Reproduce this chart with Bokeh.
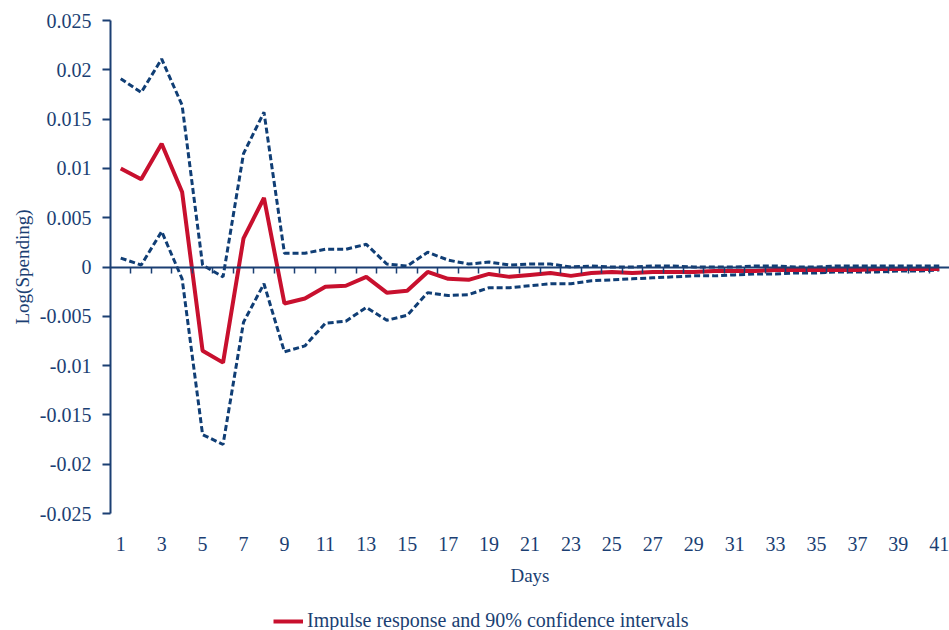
from bokeh.plotting import figure
from bokeh.layouts import column
from bokeh.models import (Range1d, FixedTicker, LinearAxis, Legend, LegendItem)
from bokeh.embed import file_html
from bokeh.resources import INLINE

days = list(range(1, 42))

impulse = [0.0100, 0.0089, 0.0125, 0.0076, -0.0085, -0.0097, 0.0029, 0.0070, -0.0037, -0.0032,
           -0.0020, -0.0019, -0.0010, -0.0026, -0.0024, -0.0005, -0.0012, -0.0013, -0.0007, -0.0010,
           -0.0008, -0.0006, -0.0009, -0.0006, -0.0005, -0.0006, -0.0005, -0.0005, -0.0005, -0.0004,
           -0.0004, -0.0004, -0.0003, -0.0003, -0.0003, -0.0003, -0.0003, -0.0002, -0.0002, -0.0002,
           -0.0002]

upper = [0.0191, 0.0177, 0.0211, 0.0164, 0.0002, -0.0010, 0.0115, 0.0157, 0.0014, 0.0014,
         0.0018, 0.0018, 0.0023, 0.0003, 0.0001, 0.0015, 0.0007, 0.0003, 0.0005, 0.0002,
         0.0003, 0.0003, 0.0000, 0.0001, 0.0000, 0.0000, 0.0001, 0.0001, 0.0000, 0.0000,
         0.0000, 0.0001, 0.0001, 0.0000, 0.0000, 0.0001, 0.0001, 0.0001, 0.0001, 0.0001,
         0.0001]

lower = [0.0009, 0.0002, 0.0036, -0.0012, -0.0170, -0.0180, -0.0056, -0.0017, -0.0086, -0.0080,
         -0.0057, -0.0055, -0.0041, -0.0054, -0.0049, -0.0026, -0.0029, -0.0028, -0.0021, -0.0021,
         -0.0019, -0.0017, -0.0017, -0.0014, -0.0013, -0.0012, -0.0011, -0.0010, -0.0009, -0.0009,
         -0.0008, -0.0007, -0.0007, -0.0006, -0.0006, -0.0005, -0.0005, -0.0005, -0.0004, -0.0004,
         -0.0003]

x_tick_days = days[::2]
y_ticks = [-0.025, -0.02, -0.015, -0.01, -0.005, 0, 0.005, 0.01, 0.015, 0.02, 0.025]
y_tick_labels = ["-0.025", "-0.02", "-0.015", "-0.01", "-0.005", "0",
                 "0.005", "0.01", "0.015", "0.02", "0.025"]

legend_label = "Impulse response and 90% confidence intervals"
x_title = "Days"
y_title = "Log(Spending)"

NAVY = "#1B3F73"
DASH = "#103E75"
RED = "#C8102E"
FONT = "Liberation Serif"
TICK_FS = "20px"
TITLE_FS = "19px"

p = figure(width=949, height=600, output_backend="svg", toolbar_location=None,
           x_range=Range1d(days[0] - 0.5, days[-1] + 0.5),
           y_range=Range1d(y_ticks[0], y_ticks[-1]),
           min_border_left=110, min_border_right=0, min_border_top=20, min_border_bottom=87,
           x_axis_location=None, y_axis_location=None)
p.outline_line_color = None
p.xgrid.visible = False
p.ygrid.visible = False
p.background_fill_color = "white"
p.border_fill_color = "white"

# y axis
yaxis = LinearAxis(ticker=FixedTicker(ticks=y_ticks),
                   major_label_overrides={t: l for t, l in zip(y_ticks, y_tick_labels)})
yaxis.axis_line_color = NAVY
yaxis.axis_line_width = 2
yaxis.major_tick_line_color = NAVY
yaxis.major_tick_line_width = 2
yaxis.major_tick_out = 8
yaxis.major_tick_in = 0
yaxis.minor_tick_line_color = None
yaxis.major_label_text_font = FONT
yaxis.major_label_text_font_size = TICK_FS
yaxis.major_label_text_color = NAVY
yaxis.major_label_standoff = 11
yaxis.axis_label = y_title
yaxis.axis_label_text_font = FONT
yaxis.axis_label_text_font_size = TITLE_FS
yaxis.axis_label_text_font_style = "normal"
yaxis.axis_label_text_color = NAVY
yaxis.axis_label_standoff = 4
p.add_layout(yaxis, "left")

# x axis labels (bottom)
xaxis = LinearAxis(ticker=FixedTicker(ticks=x_tick_days))
xaxis.axis_line_color = None
xaxis.major_tick_line_color = None
xaxis.major_tick_out = 0
xaxis.major_tick_in = 0
xaxis.minor_tick_line_color = None
xaxis.major_label_text_font = FONT
xaxis.major_label_text_font_size = TICK_FS
xaxis.major_label_text_color = NAVY
xaxis.major_label_standoff = 23
xaxis.axis_label = x_title
xaxis.axis_label_text_font = FONT
xaxis.axis_label_text_font_size = TITLE_FS
xaxis.axis_label_text_font_style = "normal"
xaxis.axis_label_text_color = NAVY
xaxis.axis_label_standoff = 11
p.add_layout(xaxis, "below")

# zero axis with category-separating ticks
zaxis = LinearAxis(fixed_location=0, ticker=FixedTicker(ticks=[d + 0.5 for d in days[:-1]]))
zaxis.axis_line_color = NAVY
zaxis.axis_line_width = 2
zaxis.major_tick_line_color = NAVY
zaxis.major_tick_line_width = 1.5
zaxis.major_tick_out = 6
zaxis.major_tick_in = 0
zaxis.minor_tick_line_color = None
zaxis.major_label_text_font_size = "0px"
zaxis.major_label_text_alpha = 0
p.add_layout(zaxis, "below")

p.line(days, upper, line_color=DASH, line_width=3, line_dash="6 3")
p.line(days, lower, line_color=DASH, line_width=3, line_dash="6 3")
p.line(days, impulse, line_color=RED, line_width=4)

# legend strip below the chart (its frame is aligned with the chart's frame)
lg = figure(width=949, height=30, output_backend="svg", toolbar_location=None,
            min_border=0, x_axis_location=None, y_axis_location=None)
lg.outline_line_color = None
lg.xgrid.visible = False
lg.ygrid.visible = False
r_key = lg.line(days, impulse, line_color=RED, line_width=4, visible=False)

legend = Legend(items=[LegendItem(label=legend_label, renderers=[r_key])],
                location=(163, -2))
legend.label_text_font = FONT
legend.label_text_font_size = TICK_FS
legend.label_text_color = NAVY
legend.glyph_width = 30
legend.label_standoff = 4
legend.padding = 0
legend.margin = 0
legend.spacing = 0
legend.border_line_color = None
legend.background_fill_alpha = 0
legend.inactive_fill_alpha = 0
lg.add_layout(legend, "center")

open("out.html", "w").write(file_html(column(p, lg, spacing=0), INLINE))
